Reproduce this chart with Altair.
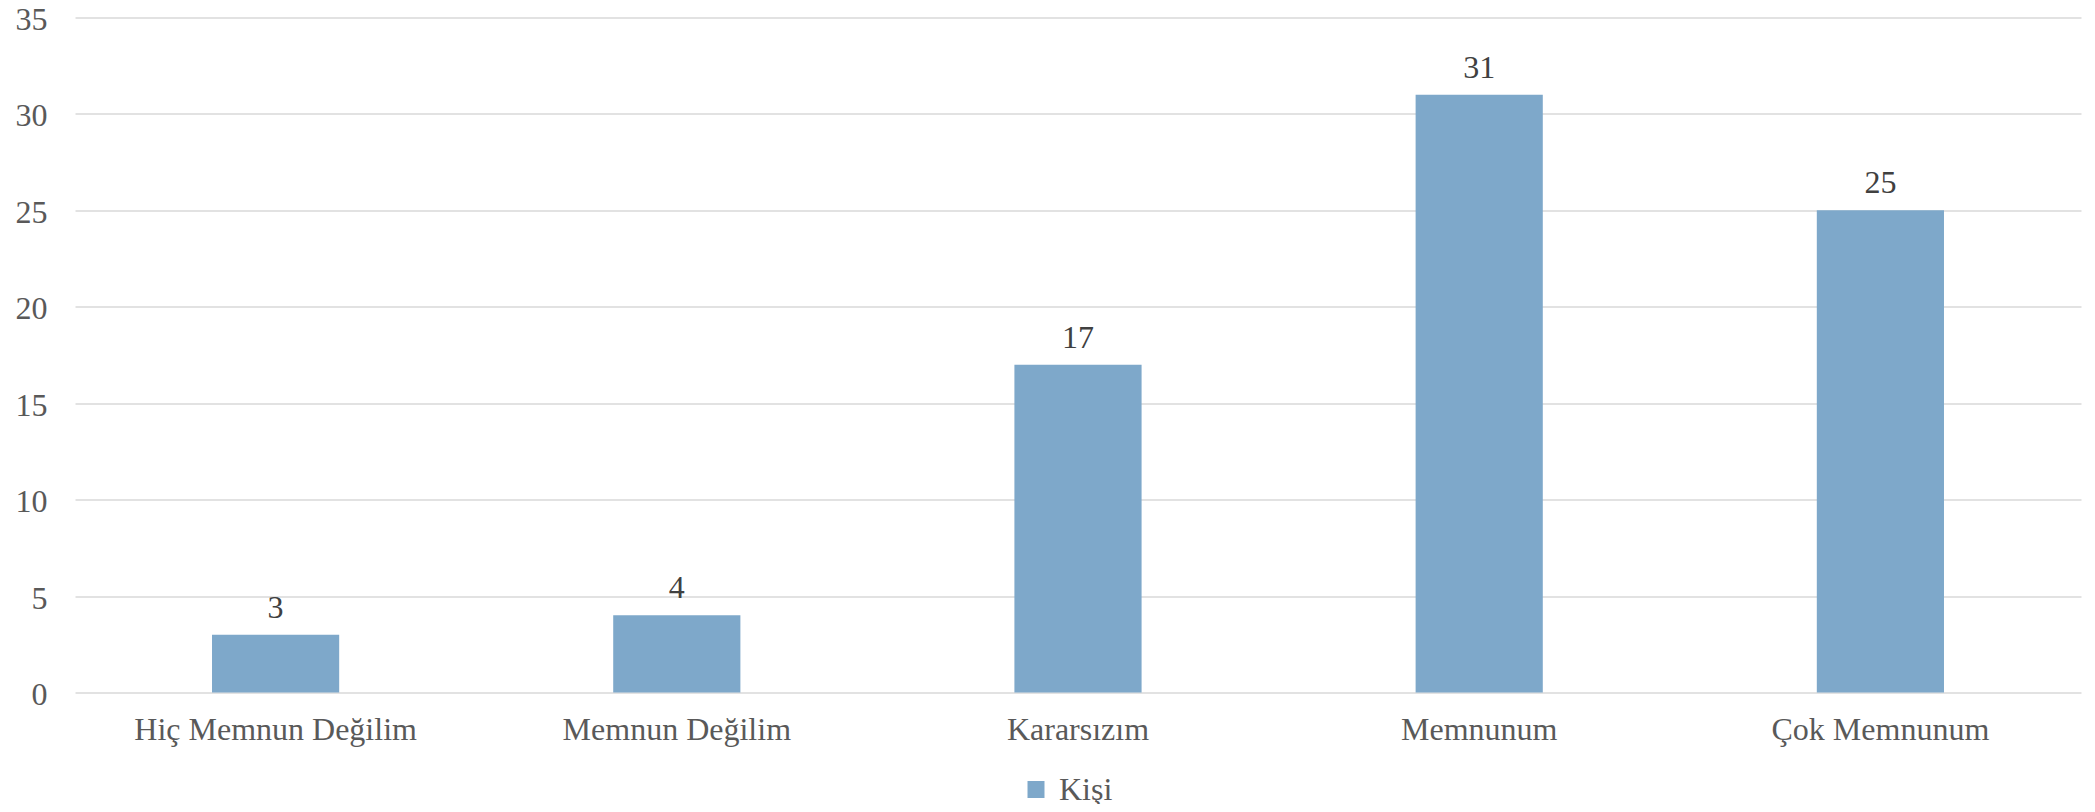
import altair as alt
import pandas as pd

categories = ["Hiç Memnun Değilim", "Memnun Değilim", "Kararsızım", "Memnunum", "Çok Memnunum"]
values = [3, 4, 17, 31, 25]
series_name = "Kişi"

df = pd.DataFrame({"kategori": categories, "deger": values, "seri": [series_name] * len(categories)})

FONT = "Liberation Serif"

base = alt.Chart(df).encode(
    x=alt.X("kategori:N", sort=categories, title=None,
            scale=alt.Scale(paddingInner=0.683, paddingOuter=0.3415),
            axis=alt.Axis(labelAngle=0, labelFont=FONT, labelFontSize=32, labelColor="#595959",
                          labelLimit=0, ticks=False, domain=False, grid=False, labelPadding=22)),
)

bars = base.mark_bar(color="#7EA8CA").encode(
    y=alt.Y("deger:Q", title=None,
            scale=alt.Scale(domain=[0, 35], nice=False),
            axis=alt.Axis(values=[0, 5, 10, 15, 20, 25, 30, 35], labelFont=FONT, labelFontSize=32,
                          labelColor="#595959", ticks=False, domain=False, grid=True,
                          gridColor="#D9D9D9", gridWidth=1.5, labelPadding=28, labelOffset=2)),
    color=alt.Color("seri:N", scale=alt.Scale(range=["#7EA8CA"]), title=None,
                    legend=alt.Legend(orient="none", legendX=945, legendY=756, symbolType="square",
                                      symbolSize=289, symbolStrokeWidth=0, labelFont=FONT,
                                      labelFontSize=32, labelColor="#595959", labelOffset=7,
                                      labelLimit=0, padding=0)),
)

labels = base.mark_text(font=FONT, fontSize=32, color="#404040", baseline="alphabetic", dy=-17).encode(
    y=alt.Y("deger:Q"),
    text=alt.Text("deger:Q"),
)

chart = alt.layer(bars, labels).properties(
    width=2006, height=675,
    autosize=alt.AutoSizeParams(type="none"),
    padding={"left": 67, "top": 9.5, "right": 6, "bottom": 111.5},
).configure(background="white", font=FONT).configure_view(stroke=None).configure_text(font=FONT)

chart.save("out.html", embed_options={"renderer": "svg", "actions": False})
